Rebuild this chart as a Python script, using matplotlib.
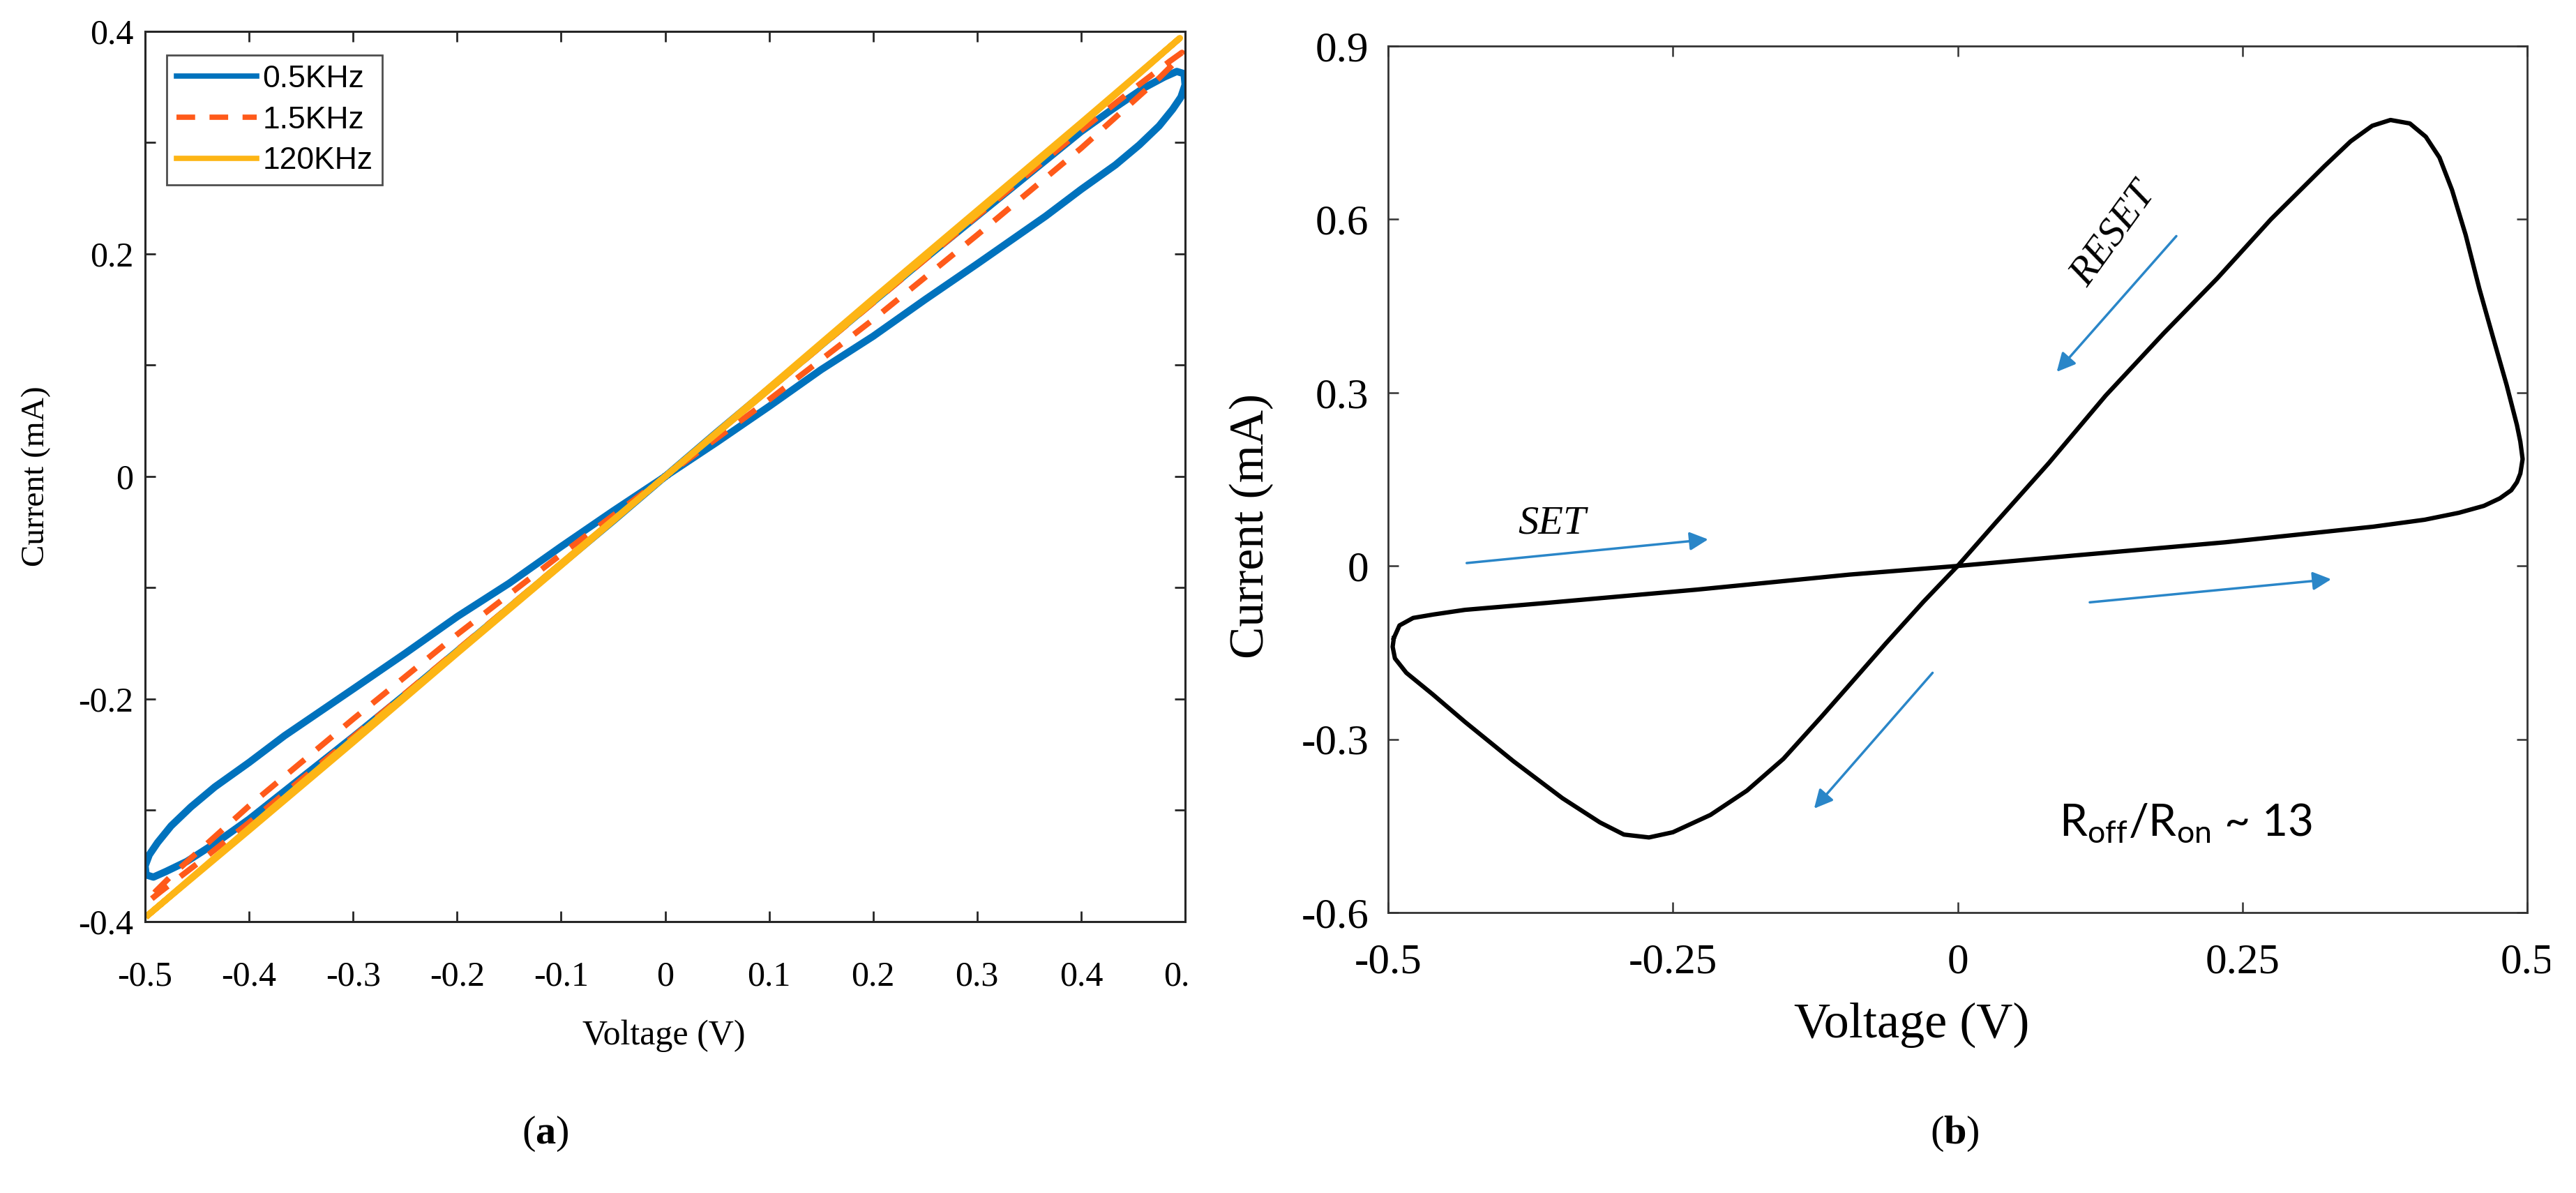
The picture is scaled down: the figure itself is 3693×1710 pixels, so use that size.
import matplotlib
matplotlib.use("Agg")
import matplotlib.pyplot as plt
from matplotlib.transforms import Bbox, TransformedBbox

plt.rcParams['font.family'] = 'Liberation Serif'
plt.rcParams['mathtext.fontset'] = 'custom'
plt.rcParams['mathtext.rm'] = 'Lato'
plt.rcParams['mathtext.bf'] = 'Liberation Serif:bold'

# ---- panel (a): I-V loops at three frequencies ----
v_05k = [0, 0.05, 0.1, 0.15, 0.2, 0.25, 0.3, 0.35, 0.4, 0.43, 0.46, 0.48, 0.492, 0.499, 0.500,
         0.496, 0.488, 0.475, 0.456, 0.433, 0.4, 0.366, 0.3, 0.25, 0.2, 0.15, 0.1, 0.05, 0,
         -0.05, -0.1, -0.15, -0.2, -0.25, -0.3, -0.35, -0.4, -0.43, -0.46, -0.48, -0.492, -0.499, -0.500,
         -0.496, -0.488, -0.475, -0.456, -0.433, -0.4, -0.366, -0.3, -0.25, -0.2, -0.15, -0.1, -0.05, 0]
i_05k = [0, 0.040, 0.079, 0.118, 0.157, 0.196, 0.234, 0.272, 0.310, 0.330, 0.349, 0.359, 0.364, 0.362, 0.352,
         0.341, 0.330, 0.315, 0.298, 0.280, 0.258, 0.234, 0.191, 0.159, 0.126, 0.096, 0.063, 0.031, 0,
         -0.040, -0.079, -0.118, -0.157, -0.196, -0.234, -0.271, -0.308, -0.328, -0.346, -0.355, -0.360, -0.358, -0.350,
         -0.340, -0.329, -0.314, -0.297, -0.279, -0.257, -0.233, -0.191, -0.159, -0.126, -0.096, -0.063, -0.031, 0]

v_15k = [0, 0.1, 0.2, 0.3, 0.4, 0.45, 0.485, 0.497, 0.49, 0.475, 0.45, 0.4, 0.3, 0.2, 0.1, 0,
         -0.1, -0.2, -0.3, -0.4, -0.45, -0.485, -0.497, -0.49, -0.475, -0.45, -0.4, -0.3, -0.2, -0.1, 0]
i_15k = [0, 0.078, 0.156, 0.234, 0.311, 0.348, 0.373, 0.381, 0.372, 0.358, 0.337, 0.295, 0.217, 0.141, 0.069, 0,
         -0.078, -0.156, -0.234, -0.311, -0.348, -0.373, -0.382, -0.373, -0.359, -0.338, -0.296, -0.218, -0.142, -0.070, 0]

v_120k = [-0.497, -0.4, -0.3, -0.2, -0.1, 0, 0.1, 0.2, 0.3, 0.4, 0.495,
          0.4, 0.3, 0.2, 0.1, 0, -0.1, -0.2, -0.3, -0.4, -0.497]
i_120k = [-0.394, -0.318, -0.239, -0.159, -0.080, 0, 0.080, 0.160, 0.239, 0.318, 0.394,
          0.316, 0.236, 0.157, 0.078, 0, -0.078, -0.157, -0.236, -0.316, -0.394]

labels_a = ['0.5KHz', '1.5KHz', '120KHz']
xticks_a = [-0.5, -0.4, -0.3, -0.2, -0.1, 0, 0.1, 0.2, 0.3, 0.4, 0.5]
xticklabels_a = ['-0.5', '-0.4', '-0.3', '-0.2', '-0.1', '0', '0.1', '0.2', '0.3', '0.4', '0.5']
yticks_a = [-0.4, -0.3, -0.2, -0.1, 0, 0.1, 0.2, 0.3, 0.4]
yticklabels_a = ['-0.4', '', '-0.2', '', '0', '', '0.2', '', '0.4']

# ---- panel (b): single pinched loop ----
v_b = [-0.495, -0.490, -0.478, -0.460, -0.4325, -0.361, -0.229, -0.095, 0, 0.102, 0.235, 0.365,
       0.410, 0.440, 0.462, 0.476, 0.486, 0.491, 0.494, 0.496, 0.494, 0.491, 0.482, 0.470, 0.458,
       0.446, 0.434, 0.423, 0.411, 0.397, 0.380, 0.364, 0.345, 0.322, 0.275, 0.228, 0.181, 0.130,
       0.080, 0.033, 0, -0.030, -0.063, -0.095, -0.120, -0.153, -0.185, -0.217, -0.250, -0.271,
       -0.293, -0.314, -0.347, -0.390, -0.4325, -0.461, -0.484, -0.494, -0.496, -0.495]
i_b = [-0.125, -0.103, -0.090, -0.084, -0.076, -0.064, -0.041, -0.015, 0, 0.018, 0.041, 0.068,
       0.080, 0.092, 0.104, 0.117, 0.131, 0.145, 0.160, 0.185, 0.215, 0.244, 0.313, 0.396, 0.480,
       0.573, 0.651, 0.707, 0.743, 0.766, 0.772, 0.762, 0.735, 0.692, 0.600, 0.498, 0.403, 0.295,
       0.178, 0.074, 0, -0.062, -0.134, -0.206, -0.262, -0.334, -0.389, -0.431, -0.461, -0.470,
       -0.465, -0.444, -0.402, -0.338, -0.270, -0.222, -0.185, -0.160, -0.140, -0.125]

xticks_b = [-0.5, -0.25, 0, 0.25, 0.5]
xticklabels_b = ['-0.5', '-0.25', '0', '0.25', '0.5']
yticks_b = [-0.6, -0.3, 0, 0.3, 0.6, 0.9]
yticklabels_b = ['-0.6', '-0.3', '0', '0.3', '0.6', '0.9']

# direction arrows (start, end) in data units
arrows_b = [((-0.431, 0.005), (-0.219, 0.046)),
            ((0.116, -0.063), (0.328, -0.023)),
            ((-0.022, -0.185), (-0.126, -0.420)),
            ((0.192, 0.571), (0.087, 0.336))]

fig = plt.figure(figsize=(36.93, 17.10), dpi=100)
W, H = 3693, 1710

# ---------------- (a) ----------------
ax1 = fig.add_axes([208 / W, 1 - 1321 / H, (1699 - 208) / W, (1321 - 45) / H])
ax1.plot(v_05k, i_05k, color='#0072BD', lw=7.5, label=labels_a[0])
ax1.plot(v_15k, i_15k, color='#FF5A1A', lw=6, dashes=(3.5, 2.7), label=labels_a[1])
ax1.plot(v_120k, i_120k, color='#FDB515', lw=6.5, label=labels_a[2])
ax1.set_xlim(-0.5, 0.5)
ax1.set_ylim(-0.4, 0.4)
ax1.set_xticks(xticks_a)
ax1.set_xticklabels(xticklabels_a)
ax1.set_yticks(yticks_a)
ax1.set_yticklabels(yticklabels_a)
ax1.tick_params(direction='in', length=11, width=2, top=True, right=True, labelsize=36, color='#262626')
ax1.tick_params(axis='x', pad=40)
ax1.tick_params(axis='y', pad=12)
for s in ax1.spines.values():
    s.set_linewidth(2.2)
    s.set_color('#262626')
ax1.set_xlabel('Voltage (V)', fontsize=36, va='center')
ax1.xaxis.set_label_coords(0.499, -0.128)
ax1.set_ylabel('Current (mA)', fontsize=34, va='center')
ax1.yaxis.set_label_coords(-0.105, 0.5)
leg = ax1.legend(loc='upper left', bbox_to_anchor=(0.021, 0.973), borderaxespad=0,
                 prop={'family': 'Liberation Sans', 'size': 32}, handlelength=2.6,
                 handletextpad=0.18, labelspacing=0.4, borderpad=0.3, fancybox=False)
leg.get_frame().set_edgecolor('#222222')
leg.get_frame().set_linewidth(2)
for h in leg.get_lines():
    h.set_linewidth(5.5)

# ---------------- (b) ----------------
ax2 = fig.add_axes([1990 / W, 1 - 1308 / H, (3623 - 1990) / W, (1308 - 66) / H])
ax2.plot(v_b, i_b, color='black', lw=4.5, solid_joinstyle='round')
for start, end in arrows_b:
    ax2.annotate('', xy=end, xytext=start,
                 arrowprops=dict(arrowstyle='-|>', color='#2A86C8', lw=2.5, mutation_scale=40,
                                 shrinkA=0, shrinkB=0))
ax2.text(-0.356, 0.073, 'SET', style='italic', fontsize=42, ha='center', va='center')
ax2.text(0.137, 0.574, 'RESET', style='italic', fontsize=42, ha='center', va='center',
         rotation=54, rotation_mode='anchor')
ax2.text(0.089, -0.468, r'R$_{\mathrm{off}}$/R$_{\mathrm{on}}$ ~ 13', family='Lato', fontsize=46,
         ha='left', va='baseline')
ax2.set_xlim(-0.5, 0.5)
ax2.set_ylim(-0.6, 0.9)
ax2.set_xticks(xticks_b)
ax2.set_xticklabels(xticklabels_b)
ax2.set_yticks(yticks_b)
ax2.set_yticklabels(yticklabels_b)
ax2.tick_params(direction='in', length=11, width=1.8, top=True, right=True, labelsize=44, color='#333333')
ax2.tick_params(axis='x', pad=32)
ax2.tick_params(axis='y', pad=20)
for s in ax2.spines.values():
    s.set_linewidth(2)
    s.set_color('#333333')
ax2.set_xlabel('Voltage (V)', fontsize=52, va='center')
ax2.xaxis.set_label_coords(0.46, -0.13)
ax2.set_ylabel('Current (mA)', fontsize=50, va='center')
ax2.yaxis.set_label_coords(-0.12, 0.446)

# last x tick labels are cut off by the image edges in the original
clip_a = TransformedBbox(Bbox([[0, 0], [1707 / W, 1]]), fig.transFigure)
clip_b = TransformedBbox(Bbox([[0, 0], [3656 / W, 1]]), fig.transFigure)
lbl = ax1.xaxis.get_majorticklabels()[-1]
lbl.set_clip_box(clip_a)
lbl.set_clip_on(True)
lbl = ax2.xaxis.get_majorticklabels()[-1]
lbl.set_clip_box(clip_b)
lbl.set_clip_on(True)

fig.text(782 / W, 1 - 1625 / H, r'($\mathbf{a}$)', fontsize=42, ha='center', va='center')
fig.text(2802 / W, 1 - 1625 / H, r'($\mathbf{b}$)', fontsize=42, ha='center', va='center')

fig.savefig('out.png', dpi=100)
